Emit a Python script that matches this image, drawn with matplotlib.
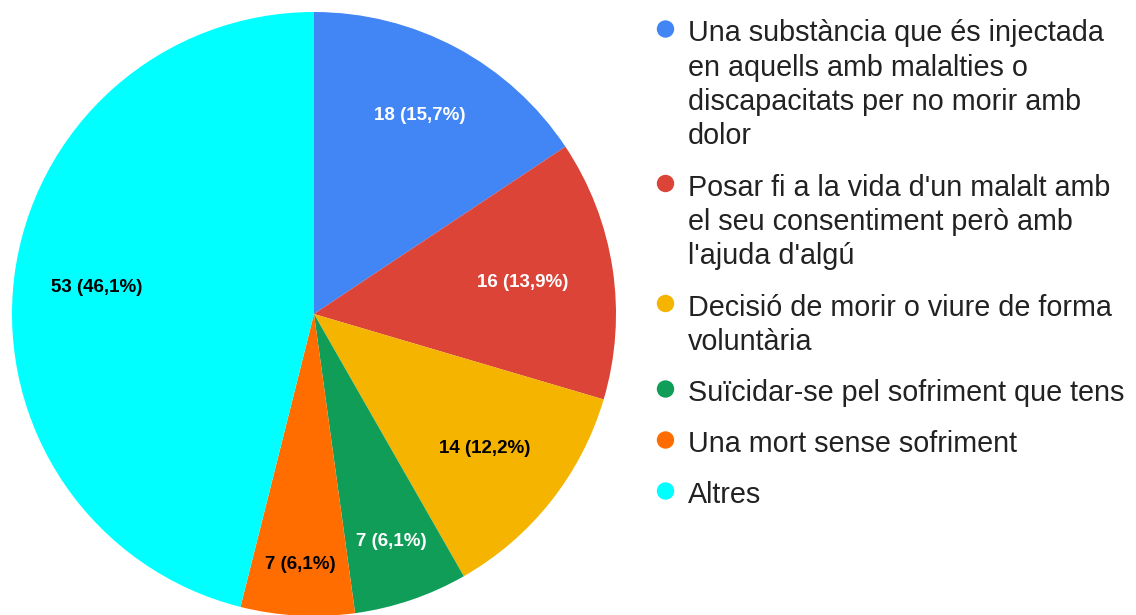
import matplotlib
matplotlib.use('Agg')
import numpy as np
import matplotlib.pyplot as plt
from matplotlib.patches import Ellipse

plt.rcParams['font.family'] = ['Liberation Sans', 'DejaVu Sans']

# data
labels = ["Una substància que és injectada\nen aquells amb malalties o\ndiscapacitats per no morir amb\ndolor",
          "Posar fi a la vida d'un malalt amb\nel seu consentiment però amb\nl'ajuda d'algú",
          "Decisió de morir o viure de forma\nvoluntària",
          "Suïcidar-se pel sofriment que tens",
          "Una mort sense sofriment",
          "Altres"]
counts = [18, 16, 14, 7, 7, 53]
colors = ['#4285F4', '#DB4437', '#F4B400', '#0F9D58', '#FF6D01', '#00FFFF']
label_colors = ['white', 'white', 'black', 'white', 'black', 'black']
label_dist = [0.745, 0.70, 0.72, 0.795, 0.83, 0.725]

W, H = 1136, 615
fig = plt.figure(figsize=(W / 100, H / 100), dpi=100)
fig.patch.set_facecolor('white')

# pie axes: center (314, 314), radius 302 px
cx, cy, r = 314, 314, 302
ax = fig.add_axes([(cx - r) / W, (H - cy - r) / H, 2 * r / W, 2 * r / H])
wedges, _ = ax.pie(counts, colors=colors, startangle=90, counterclock=False,
                   radius=1, wedgeprops=dict(linewidth=0))
ax.set_xlim(-1, 1)
ax.set_ylim(-1, 1)
ax.set_aspect('equal')
ax.axis('off')

total = sum(counts)
for w, n, c, d in zip(wedges, counts, label_colors, label_dist):
    ang = np.deg2rad((w.theta1 + w.theta2) / 2)
    pct = f"{100 * n / total:.1f}".replace('.', ',')
    ax.text(d * np.cos(ang), d * np.sin(ang), f"{n} ({pct}%)",
            ha='center', va='center', fontsize=13.5, fontweight='bold', color=c)

# legend drawn by hand (wrapped lines, marker on first line)
mx, tx = 665.5, 688
base = 41
line_h = 34.5
gap = 51
for lab, col in zip(labels, colors):
    lines = lab.split('\n')
    fig.patches.append(Ellipse((mx / W, 1 - (base - 12) / H), 16 / W, 16 / H,
                               transform=fig.transFigure, color=col))
    for i, ln in enumerate(lines):
        fig.text(tx / W, 1 - (base + i * line_h) / H, ln, fontsize=20.7,
                 color='#222222', ha='left', va='baseline')
    base += (len(lines) - 1) * line_h + gap

fig.savefig('out.png', dpi=100)
